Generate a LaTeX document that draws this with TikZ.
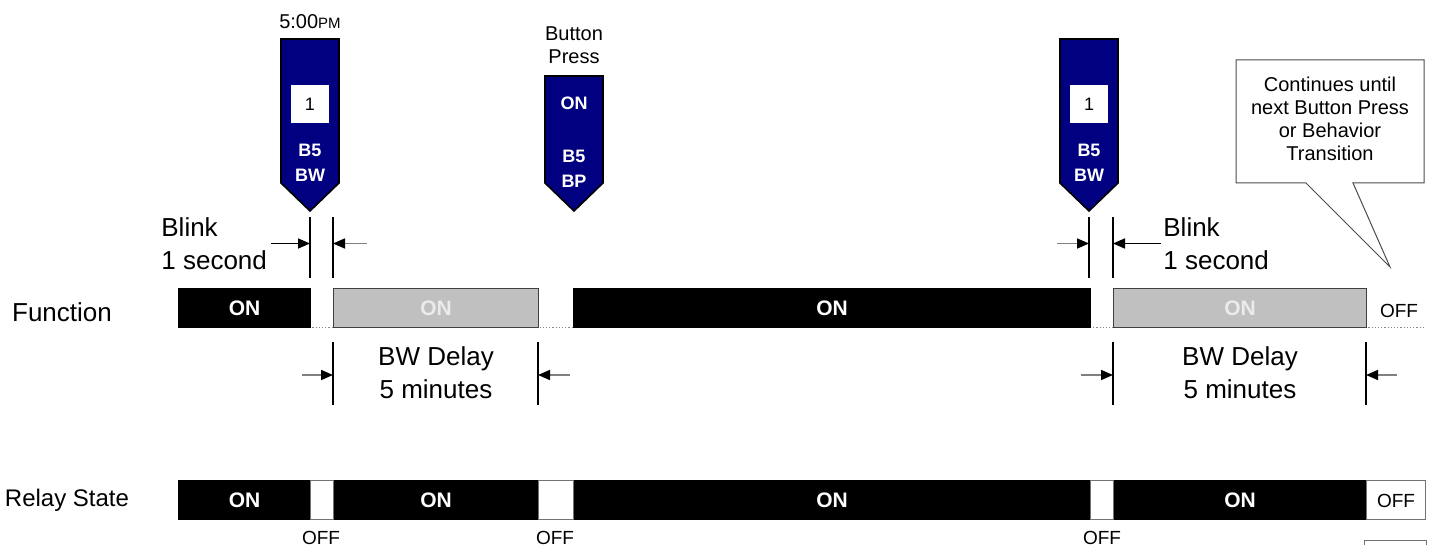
\documentclass[tikz,border=0pt]{standalone}
\usepackage{fontspec}
\setmainfont{Liberation Sans}
\usetikzlibrary{arrows.meta}
\definecolor{navy}{RGB}{0,0,128}
\definecolor{lightbar}{RGB}{192,192,192}

\begin{document}
\begin{tikzpicture}[x=0.5pt,y=-0.5pt,
  lbl/.style={font=\fontsize{13}{16.5}\selectfont,inner sep=0pt,align=left},
  bar/.style={draw=black,fill=black,text=white,line width=0.5pt,inner sep=0pt,minimum height=19.5pt,anchor=west,font=\fontsize{10.5}{12}\selectfont\bfseries},
  graybar/.style={bar,draw=black!75,fill=lightbar,text=white!92!black},
  gapbox/.style={draw=black!55,fill=white,line width=0.5pt},
  offlbl/.style={font=\fontsize{9.5}{11}\selectfont,inner sep=0pt},
  marker/.style={draw=black,fill=navy,line width=0.8pt},
  mtext/.style={text=white,font=\fontsize{9}{12.5}\selectfont\bfseries,align=center,inner sep=0pt},
  numbox/.style={fill=white,minimum size=19pt,inner sep=0pt,font=\fontsize{9}{11}\selectfont},
  toplbl/.style={font=\fontsize{10}{11.5}\selectfont,align=center,inner sep=0pt},
  dimline/.style={line width=1pt},
  dimarr/.style={line width=0.8pt,-{Triangle[length=6pt,width=5pt]}},
  greyarr/.style={line width=0.8pt,draw=black!50,-{Triangle[length=6pt,width=5pt,black]}}]
\useasboundingbox (0,0) rectangle (1432,545);

% row labels
\node[lbl] (func) at (62,312) {Function};
\node[lbl,font=\fontsize{12}{14}\selectfont] (relay) at (67,500) {Relay State};

% function row
\draw[black!45,densely dotted,line width=0.6pt] (178,327.5) -- (1425,327.5);
\foreach \a/\b/\s [count=\i] in {178/310/bar,333/538/graybar,573/1090/bar,1113/1366/graybar}
  \node[\s,minimum width={(\b-\a)*0.5pt}] (f\i) at (\a,308.5) {ON};
\node[offlbl] (foff) at (1399,311) {OFF};

% relay row
\foreach \a/\b [count=\i] in {178/310,333/538,573/1090,1113/1366}
  \node[bar,minimum width={(\b-\a)*0.5pt}] (r\i) at (\a,500.5) {ON};
\foreach \a/\b in {310/333,538/573,1090/1113}
  \draw[gapbox] (\a,481) rectangle (\b,520);
\node[gapbox,offlbl,minimum width=29.5pt,minimum height=19.5pt,anchor=west] (roff) at (1366,500.5) {OFF};
\foreach \x [count=\i] in {321,555,1102}
  \node[offlbl,anchor=base] (gap\i) at (\x,545) {OFF};
\draw[gapbox] (1364,541) rectangle (1426,600);

% event markers
\foreach \x/\t [count=\i] in {310/39,574/76,1089/39}
  \draw[marker] (\x-29,\t) -- (\x+29,\t) -- (\x+29,183) -- (\x,211) coordinate (tip\i) -- (\x-29,183) -- cycle;
\node[toplbl] (time) at (310,22) {5:00{\fontsize{7.5}{9}\selectfont PM}};
\node[toplbl] (press) at (574,45) {Button\\Press};
\node[numbox] (n1) at (310,104) {1};
\node[numbox] (n3) at (1089,104) {1};
\node[mtext] (b1) at (310,163) {B5\\BW};
\node[mtext] (on2) at (574,103) {ON};
\node[mtext] (b2) at (574,168.5) {B5\\BP};
\node[mtext] (b3) at (1089,163) {B5\\BW};

% blink 1 second
\foreach \x in {310,333,1089,1113} \draw[dimline] (\x,217) -- (\x,278);
\node[lbl,anchor=west] (blinkA) at (161,243.5) {Blink\\1 second};
\node[lbl,anchor=west] (blinkB) at (1163,243.5) {Blink\\1 second};
\draw[dimarr] ([xshift=2pt]blinkA.east) -- (310,243.5);
\draw[greyarr] (367,243.5) -- (333,243.5);
\draw[greyarr] (1057,243.5) -- (1089,243.5);
\draw[dimarr] ([xshift=-1pt]blinkB.west) -- (1113,243.5);

% BW delay
\foreach \x in {333,538,1113,1366} \draw[dimline] (\x,342) -- (\x,405);
\foreach \a/\b in {302/333,570/538,1081/1113,1397/1366}
  \draw[greyarr] (\a,375) -- (\b,375);
\node[lbl,align=center] (delayA) at (436,373) {BW Delay\\5 minutes};
\node[lbl,align=center] (delayB) at (1240,373) {BW Delay\\5 minutes};

% callout
\draw[draw=black!70,fill=white,line width=0.5pt] (1236,60) -- (1424,60) -- (1424,183) -- (1353,183)
  -- (1390,267) coordinate (ptr) -- (1306,183) -- (1236,183) -- cycle;
\node[toplbl,font=\fontsize{10}{11.4}\selectfont] (note) at (1330,119) {Continues until\\next Button Press\\or Behavior\\Transition};
\end{tikzpicture}
\end{document}
